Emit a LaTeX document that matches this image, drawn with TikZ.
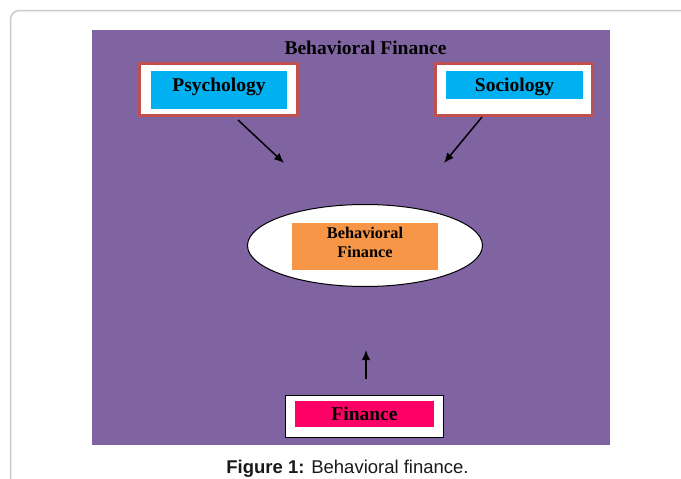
\documentclass[tikz,border=0pt]{standalone}
\usepackage{fontspec}
\setmainfont{Liberation Serif}
\newfontfamily\capfont{Liberation Sans}
\usetikzlibrary{shapes.geometric,arrows.meta}
\definecolor{bfpurple}{HTML}{8064A2}
\definecolor{bfred}{HTML}{C0504D}
\definecolor{bfcyan}{HTML}{00B0F0}
\definecolor{bforange}{HTML}{F79646}
\definecolor{bfpink}{HTML}{FF0066}
\definecolor{bfframe}{HTML}{CACACA}
\definecolor{bfcap}{HTML}{1A1A1A}
\begin{document}
\begin{tikzpicture}[x=1pt,y=-1pt,
  panel/.style={fill=bfpurple, draw=none, inner sep=0pt},
  titletext/.style={font=\bfseries\fontsize{19.5}{23}\selectfont, inner sep=0pt},
  outerbox/.style={draw=bfred, line width=3pt, fill=white, inner sep=0pt},
  blackbox/.style={draw=black, line width=1.2pt, fill=white, inner sep=0pt},
  fillbox/.style={draw=none, inner sep=0pt, font=\bfseries\fontsize{19.5}{23}\selectfont},
  ell/.style={ellipse, draw=black, line width=1pt, fill=white, inner sep=0pt},
  bftext/.style={font=\bfseries\fontsize{16.3}{19}\selectfont, inner sep=0pt},
  arr/.style={line width=1.5pt, -{Latex[length=10pt,width=8.5pt]}},
  captext/.style={font=\capfont\fontsize{18.5}{22}\selectfont, text=bfcap, inner sep=0pt}
]
\useasboundingbox (0,0) rectangle (681,479);
\begin{scope}
  \clip (0,0) rectangle (681,479);
  \draw[bfframe, line width=1.5pt, rounded corners=9pt] (10.5,10.5) rectangle (720,520);
\end{scope}
\node[panel, minimum width=518, minimum height=415] (panel) at (351,237.5) {};
\node[titletext, anchor=base] (title) at (365.5,54) {Behavioral Finance};
% Psychology
\node[outerbox, minimum width=158, minimum height=52] (psyo) at (218.5,89.5) {};
\node[fillbox, fill=bfcyan, minimum width=136, text height=20pt, text depth=18pt, anchor=base] (psy) at (219,91) {Psychology};
% Sociology
\node[outerbox, minimum width=157, minimum height=52] (soco) at (514,89.5) {};
\node[fillbox, fill=bfcyan, minimum width=137, text height=20pt, text depth=8pt, anchor=base] (soc) at (514.5,91) {Sociology};
% arrows from top boxes
\coordinate (a1s) at (238,120);
\coordinate (a1e) at (284,163);
\coordinate (a2s) at (482,117);
\coordinate (a2e) at (444,163);
\draw[arr] (a1s) -- (a1e);
\draw[arr] (a2s) -- (a2e);
% central ellipse
\node[ell, minimum width=235, minimum height=82] (ell) at (365,245.5) {};
\node[fillbox, fill=bforange, minimum width=146, minimum height=47] (bf) at (365,246.5) {};
\node[bftext, anchor=base] (bf1) at (365,238) {Behavioral};
\node[bftext, anchor=base] (bf2) at (365,257) {Finance};
% up arrow
\coordinate (a3s) at (366,379);
\coordinate (a3e) at (366,350);
\draw[arr] (a3s) -- (a3e);
% Finance
\node[blackbox, minimum width=157.8, minimum height=41.8] (fino) at (364.5,416.5) {};
\node[fillbox, fill=bfpink, minimum width=139, text height=19pt, text depth=7pt, anchor=base] (fin) at (364.5,420) {Finance};
% caption
\node[captext, anchor=base] (cap) at (347.5,473) {\textbf{Figure 1:} Behavioral finance.};
\end{tikzpicture}
\end{document}
